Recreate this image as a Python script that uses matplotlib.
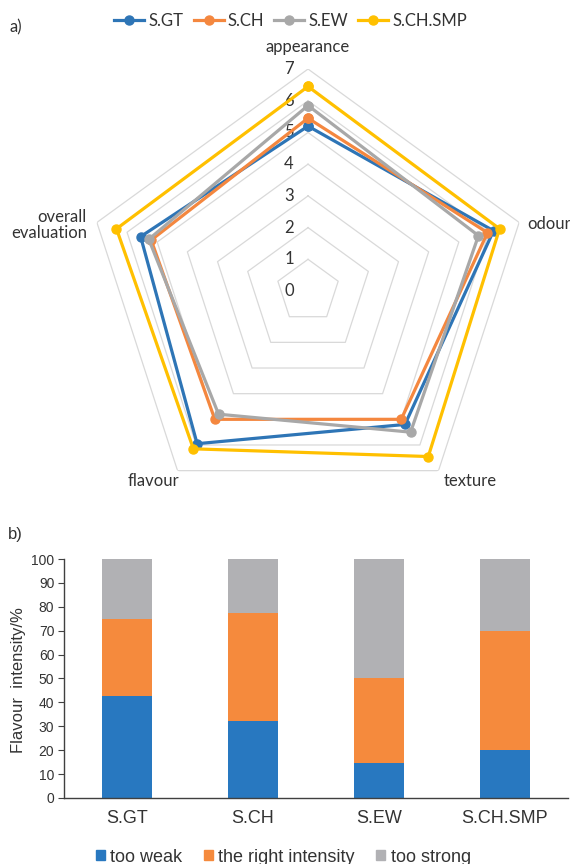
import numpy as np
import matplotlib.pyplot as plt
from matplotlib.lines import Line2D
from matplotlib.patches import Patch

# ---- data -------------------------------------------------------------
attributes = ["appearance", "odour", "texture", "flavour", "overall\nevaluation"]
samples = ["S.GT", "S.CH", "S.EW", "S.CH.SMP"]
sgt = [5.2, 6.15, 5.2, 5.95, 5.55]
sch = [5.45, 5.95, 5.0, 5.0, 5.2]
sew = [5.85, 5.65, 5.5, 4.8, 5.28]
schsmp = [6.45, 6.35, 6.45, 6.15, 6.35]
radial_ticks = [0, 1, 2, 3, 4, 5, 6, 7]

too_weak = [42.5, 32.2, 14.8, 20.0]
right_intensity = [32.6, 45.3, 35.4, 50.0]
too_strong = [24.9, 22.5, 49.8, 30.0]
flavour_ticks = [0, 10, 20, 30, 40, 50, 60, 70, 80, 90, 100]

line_colors = ["#2E75B6", "#F4873F", "#A8A8A8", "#FFC000"]
bar_colors = ["#2878C0", "#F58A3D", "#B1B1B4"]
text_color = "#333333"

fig = plt.figure(figsize=(5.7, 8.64), dpi=100)

# ---- a) radar --------------------------------------------------------
ax = fig.add_axes([0.1509, 0.4062, 0.779, 0.5139], projection="polar")
ax.set_theta_offset(np.pi / 2)
ax.set_theta_direction(-1)
ax.set_ylim(0, 7)
ax.grid(False)
ax.spines["polar"].set_visible(False)
ax.set_xticks([])
ax.set_yticks([])

n = len(attributes)
angles = np.linspace(0, 2 * np.pi, n, endpoint=False)
closed = np.append(angles, angles[0])

for lvl in radial_ticks[1:]:
    ax.plot(closed, [lvl] * (n + 1), color="#D9D9D9", lw=0.9, zorder=1)

for lvl in radial_ticks:
    ax.annotate(str(lvl), xy=(0, lvl), xytext=(-19, 0), textcoords="offset pixels",
                ha="center", va="center", fontsize=12, family="Lato", color=text_color)

for vals, col, name in zip([sgt, sch, sew, schsmp], line_colors, samples):
    v = np.append(vals, vals[0])
    ax.plot(closed, v, color=col, lw=2.3, marker="o", ms=6.5, label=name, zorder=3)

label_offsets = [(0, 22), (8, -2), (32, -10), (-24, -10), (-10, -3)]
label_ha = ["center", "left", "center", "center", "right"]
for ang, lab, off, ha in zip(angles, attributes, label_offsets, label_ha):
    ax.annotate(lab, xy=(ang, 7), xytext=off, textcoords="offset pixels",
                ha=ha, va="center", fontsize=12, family="Lato", color=text_color,
                multialignment="right", linespacing=1.0)

handles = [Line2D([], [], color=c, lw=2.3, marker="o", ms=6.5) for c in line_colors]
fig.legend(handles, samples, loc="center", bbox_to_anchor=(0.51, 1 - 21 / 864), ncol=4,
           frameon=False, handlelength=1.8, handletextpad=0.25, columnspacing=0.6,
           prop={"family": "Lato", "size": 12}, labelcolor=text_color)
fig.text(10 / 570, 1 - 27 / 864, "a)", fontsize=12, family="Lato", color=text_color, va="center")

# ---- b) stacked bars ---------------------------------------------------
bx = fig.add_axes([0.1123, 0.0764, 0.8842, 0.2766])
x = np.arange(len(samples))
bx.bar(x, too_weak, width=0.4, color=bar_colors[0], label="too weak")
bx.bar(x, right_intensity, width=0.4, bottom=too_weak, color=bar_colors[1],
       label="the right intensity")
bottom2 = np.array(too_weak) + np.array(right_intensity)
bx.bar(x, too_strong, width=0.4, bottom=bottom2, color=bar_colors[2], label="too strong")

bx.set_xlim(-0.5, len(samples) - 0.5)
bx.set_ylim(0, 100)
bx.set_yticks(flavour_ticks)
bx.set_xticks(x)
bx.set_xticklabels(samples, family="Liberation Sans", fontsize=13, color=text_color)
for t in bx.get_yticklabels():
    t.set_family("Liberation Sans")
    t.set_fontsize(10)
    t.set_color(text_color)
bx.tick_params(axis="x", length=0, pad=9)
bx.tick_params(axis="y", length=4, width=0.8, color="#404040", pad=3)
for s in ["top", "right"]:
    bx.spines[s].set_visible(False)
for s in ["left", "bottom"]:
    bx.spines[s].set_color("#404040")
    bx.spines[s].set_linewidth(1.0)
bx.set_ylabel("Flavour  intensity/%", family="Liberation Sans", fontsize=12,
              color=text_color, va="center")
bx.yaxis.set_label_coords(-0.091, 0.494)

leg_handles = [Patch(color=c) for c in bar_colors]
fig.legend(leg_handles, ["too weak", "the right intensity", "too strong"], loc="center",
           bbox_to_anchor=(0.497, 1 - 857 / 864), ncol=3, frameon=False,
           handlelength=0.5, handleheight=0.5, handletextpad=0.3, columnspacing=1.2,
           prop={"family": "Liberation Sans", "size": 13}, labelcolor=text_color)
fig.text(8 / 570, 1 - 535 / 864, "b)", fontsize=12, family="Liberation Sans",
         color=text_color, va="center")

fig.savefig("out.png", dpi=100)
